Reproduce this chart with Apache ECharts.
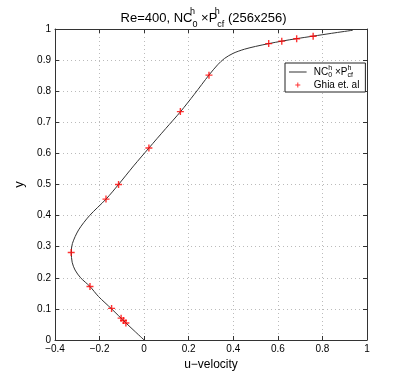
<!DOCTYPE html>
<html>
<head>
<meta charset="utf-8">
<script src="https://cdn.jsdelivr.net/npm/echarts@6/dist/echarts.min.js"></script>
<style>
  html, body { margin: 0; padding: 0; background: #fff; }
  #chart { width: 407px; height: 384px; }
</style>
</head>
<body>
<div id="chart"></div>
<script>
// numerical solution along vertical centreline (u, y)
const curveU = [0, -0.045, -0.082, -0.146, -0.205, -0.243, -0.285, -0.310, -0.323, -0.327, -0.322, -0.294, -0.245, -0.171, -0.115, -0.047, 0.021, 0.097, 0.163, 0.225, 0.291, 0.33, 0.36, 0.40, 0.45, 0.50, 0.559, 0.618, 0.684, 0.758, 0.84, 0.936]
const curveY = [0, 0.03, 0.055, 0.1, 0.14, 0.172, 0.2, 0.225, 0.25, 0.281, 0.31, 0.354, 0.40, 0.453, 0.5, 0.56, 0.617, 0.68, 0.734, 0.79, 0.852, 0.885, 0.905, 0.922, 0.935, 0.944, 0.953, 0.961, 0.969, 0.977, 0.986, 0.996]
// Ghia et al. reference points
const ghiaU = [0.75837, 0.68439, 0.61756, 0.55892, 0.29093, 0.16256, 0.02135, -0.11477, -0.17119, -0.32726, -0.24299, -0.14612, -0.10338, -0.09266, -0.08186]
const ghiaY = [0.9766, 0.9688, 0.9609, 0.9531, 0.8516, 0.7344, 0.6172, 0.5, 0.4531, 0.2813, 0.1719, 0.1016, 0.0703, 0.0625, 0.0547]
const xTicks = [-0.4, -0.2, 0, 0.2, 0.4, 0.6, 0.8, 1]
const yTicks = [0, 0.1, 0.2, 0.3, 0.4, 0.5, 0.6, 0.7, 0.8, 0.9, 1]

const FONT = 'Liberation Sans'
const plusPath = 'path://M4,0 L6,0 L6,4 L10,4 L10,6 L6,6 L6,10 L4,10 L4,6 L0,6 L0,4 L4,4 Z'
// smaller plus for the legend (extra empty points widen the box)
const legendPlus = 'path://M-3,-3 L-2.99,-3 Z M4,0 L6,0 L6,4 L10,4 L10,6 L6,6 L6,10 L4,10 L4,6 L0,6 L0,4 L4,4 Z M13,13 L12.99,13 Z'
// thin line icon, degenerate subpaths keep the full box height
const lineIcon = 'path://M0,0 L0.01,0 Z M0,4.5 L22,4.5 L22,5.5 L0,5.5 Z M0,10 L0.01,10 Z'

function fmt(v){
    let s = String(Math.round(v * 10) / 10)
    return s.replace('-', '\u2212')
}

let my_chart = echarts.init(document.getElementById('chart'), null, {renderer: 'canvas'})

const axisCommon = {
    axisLine: {show: true, onZero: false, lineStyle: {color: '#333', width: 1}},
    axisTick: {show: true, inside: true, length: 4, lineStyle: {color: '#333'}},
    splitLine: {show: false}
}

my_chart.setOption({
    animation: false,
    backgroundColor: '#fff',
    title: {
        text: '{n|Re=400, NC}{sup|h}{sub|0}{n| \u00d7P}{sup|h}{sub|cf}{n| (256x256)}',
        left: 'center',
        top: 2,
        textStyle: {
            fontWeight: 'normal',
            rich: {
                n: {fontFamily: FONT, fontSize: 13, fontWeight: 'normal', color: '#000', lineHeight: 22},
                sup: {fontFamily: FONT, fontSize: 9, fontWeight: 'normal', color: '#000', verticalAlign: 'top', width: 0, lineHeight: 22},
                sub: {fontFamily: FONT, fontSize: 9, fontWeight: 'normal', color: '#000', verticalAlign: 'bottom', lineHeight: 22}
            }
        }
    },
    legend: {
        orient: 'vertical',
        left: 285,
        top: 63,
        backgroundColor: '#fff',
        borderColor: '#222',
        borderWidth: 1,
        borderRadius: 0,
        padding: [2, 6, 2, 4],
        itemGap: 1,
        itemWidth: 22,
        itemHeight: 8,
        data: [
            {name: 'num', icon: lineIcon, itemStyle: {color: '#333'}},
            {name: 'Ghia et. al', icon: legendPlus}
        ],
        formatter: function(name){
            if(name === 'num'){
                return '{n|NC}{sup|h}{sub|0}{n| \u00d7P}{sup|h}{sub|cf}'
            }
            return '{n|' + name + '}'
        },
        textStyle: {
            rich: {
                n: {fontFamily: FONT, fontSize: 10, color: '#000', lineHeight: 14},
                sup: {fontFamily: FONT, fontSize: 7, color: '#000', verticalAlign: 'top', width: 0, lineHeight: 14},
                sub: {fontFamily: FONT, fontSize: 7, color: '#000', verticalAlign: 'bottom', lineHeight: 14}
            }
        }
    },
    grid: {left: 55, right: 40, top: 29, bottom: 44, containLabel: false},
    xAxis: [
        Object.assign({
            type: 'value', min: -0.4, max: 1, interval: 0.2, position: 'bottom',
            name: 'u\u2212velocity', nameLocation: 'middle', nameGap: 16,
            nameTextStyle: {fontFamily: FONT, fontSize: 12, color: '#000'},
            axisLabel: {fontFamily: FONT, fontSize: 10, color: '#000', margin: 4, formatter: fmt},
        }, axisCommon, {
            splitLine: {show: true, lineStyle: {color: '#bbb', type: [1, 3], width: 1}}
        }),
        Object.assign({
            type: 'value', min: -0.4, max: 1, interval: 0.2, position: 'top',
            axisLabel: {show: false}
        }, axisCommon)
    ],
    yAxis: [
        Object.assign({
            type: 'value', min: 0, max: 1, interval: 0.1, position: 'left',
            name: 'y', nameLocation: 'middle', nameGap: 20,
            nameTextStyle: {fontFamily: FONT, fontSize: 13, color: '#000'},
            axisLabel: {fontFamily: FONT, fontSize: 10, color: '#000', margin: 4, formatter: fmt},
        }, axisCommon, {
            splitLine: {show: true, lineStyle: {color: '#bbb', type: [1, 3], width: 1}}
        }),
        Object.assign({
            type: 'value', min: 0, max: 1, interval: 0.1, position: 'right',
            axisLabel: {show: false}
        }, axisCommon)
    ],
    series: [
        {
            name: 'num',
            type: 'line',
            xAxisIndex: 0,
            yAxisIndex: 0,
            data: curveU.map((u, i) => [u, curveY[i]]),
            symbol: 'none',
            smooth: 0.3,
            lineStyle: {color: '#333', width: 1},
            itemStyle: {color: '#333'},
            z: 2
        },
        {
            name: 'Ghia et. al',
            type: 'scatter',
            xAxisIndex: 0,
            yAxisIndex: 0,
            data: ghiaU.map((u, i) => [u, ghiaY[i]]),
            symbol: plusPath,
            symbolSize: 7,
            symbolKeepAspect: true,
            itemStyle: {color: '#ff0000'},
            z: 3
        }
    ]
})
</script>
</body>
</html>
